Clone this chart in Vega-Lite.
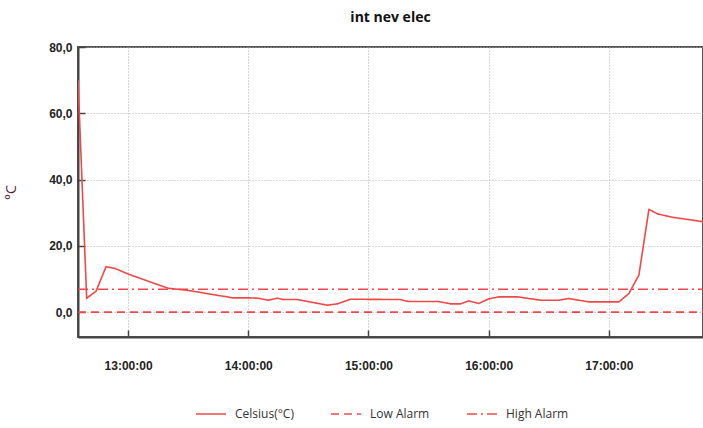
{
  "$schema": "https://vega.github.io/schema/vega-lite/v6.json",
  "width": 625,
  "height": 290,
  "autosize": {"type": "none"},
  "padding": {"left": 78, "top": 47, "right": 0, "bottom": 91},
  "background": "white",
  "title": {
    "text": "int nev elec",
    "font": "Open Sans",
    "fontSize": 14,
    "fontWeight": "bold",
    "color": "#111111",
    "anchor": "middle",
    "offset": 16
  },
  "config": {
    "view": {"stroke": "#555555", "strokeWidth": 2},
    "axis": {
      "grid": true,
      "gridColor": "#b0b0b0",
      "gridDash": [1, 2],
      "gridWidth": 1,
      "domainColor": "#444444",
      "domainWidth": 2,
      "tickColor": "#444444",
      "tickWidth": 1.5,
      "labelFont": "Liberation Sans",
      "labelFontSize": 12,
      "labelFontWeight": "bold",
      "labelColor": "#222222"
    }
  },
  "data": {
    "values": [
      {"time": "2020-01-01T12:35:00", "value": 70, "series": "Celsius(°C)"},
      {"time": "2020-01-01T12:39:20", "value": 4.2, "series": "Celsius(°C)"},
      {"time": "2020-01-01T12:44:00", "value": 6.3, "series": "Celsius(°C)"},
      {"time": "2020-01-01T12:49:00", "value": 13.7, "series": "Celsius(°C)"},
      {"time": "2020-01-01T12:53:30", "value": 13.2, "series": "Celsius(°C)"},
      {"time": "2020-01-01T13:00:00", "value": 11.5, "series": "Celsius(°C)"},
      {"time": "2020-01-01T13:20:00", "value": 7.2, "series": "Celsius(°C)"},
      {"time": "2020-01-01T13:29:30", "value": 6.6, "series": "Celsius(°C)"},
      {"time": "2020-01-01T13:52:30", "value": 4.3, "series": "Celsius(°C)"},
      {"time": "2020-01-01T14:00:30", "value": 4.3, "series": "Celsius(°C)"},
      {"time": "2020-01-01T14:05:00", "value": 4.2, "series": "Celsius(°C)"},
      {"time": "2020-01-01T14:10:00", "value": 3.6, "series": "Celsius(°C)"},
      {"time": "2020-01-01T14:14:30", "value": 4.2, "series": "Celsius(°C)"},
      {"time": "2020-01-01T14:17:30", "value": 3.8, "series": "Celsius(°C)"},
      {"time": "2020-01-01T14:24:30", "value": 3.8, "series": "Celsius(°C)"},
      {"time": "2020-01-01T14:39:30", "value": 2.1, "series": "Celsius(°C)"},
      {"time": "2020-01-01T14:44:30", "value": 2.5, "series": "Celsius(°C)"},
      {"time": "2020-01-01T14:51:00", "value": 3.9, "series": "Celsius(°C)"},
      {"time": "2020-01-01T15:16:00", "value": 3.8, "series": "Celsius(°C)"},
      {"time": "2020-01-01T15:20:00", "value": 3.2, "series": "Celsius(°C)"},
      {"time": "2020-01-01T15:35:00", "value": 3.2, "series": "Celsius(°C)"},
      {"time": "2020-01-01T15:41:00", "value": 2.5, "series": "Celsius(°C)"},
      {"time": "2020-01-01T15:46:00", "value": 2.5, "series": "Celsius(°C)"},
      {"time": "2020-01-01T15:50:00", "value": 3.4, "series": "Celsius(°C)"},
      {"time": "2020-01-01T15:55:00", "value": 2.6, "series": "Celsius(°C)"},
      {"time": "2020-01-01T16:00:00", "value": 4.0, "series": "Celsius(°C)"},
      {"time": "2020-01-01T16:05:00", "value": 4.6, "series": "Celsius(°C)"},
      {"time": "2020-01-01T16:14:30", "value": 4.6, "series": "Celsius(°C)"},
      {"time": "2020-01-01T16:26:00", "value": 3.6, "series": "Celsius(°C)"},
      {"time": "2020-01-01T16:35:00", "value": 3.6, "series": "Celsius(°C)"},
      {"time": "2020-01-01T16:40:00", "value": 4.1, "series": "Celsius(°C)"},
      {"time": "2020-01-01T16:50:00", "value": 3.1, "series": "Celsius(°C)"},
      {"time": "2020-01-01T17:05:00", "value": 3.1, "series": "Celsius(°C)"},
      {"time": "2020-01-01T17:10:00", "value": 5.6, "series": "Celsius(°C)"},
      {"time": "2020-01-01T17:15:00", "value": 11.2, "series": "Celsius(°C)"},
      {"time": "2020-01-01T17:20:00", "value": 31.0, "series": "Celsius(°C)"},
      {"time": "2020-01-01T17:24:30", "value": 29.6, "series": "Celsius(°C)"},
      {"time": "2020-01-01T17:32:00", "value": 28.6, "series": "Celsius(°C)"},
      {"time": "2020-01-01T17:47:00", "value": 27.3, "series": "Celsius(°C)"},
      {"time": "2020-01-01T12:35:00", "value": 0, "series": "Low Alarm"},
      {"time": "2020-01-01T17:47:00", "value": 0, "series": "Low Alarm"},
      {"time": "2020-01-01T12:35:00", "value": 6.9, "series": "High Alarm"},
      {"time": "2020-01-01T17:47:00", "value": 6.9, "series": "High Alarm"}
    ]
  },
  "mark": {"type": "line", "strokeWidth": 1.6, "clip": true},
  "encoding": {
    "x": {
      "field": "time",
      "type": "temporal",
      "scale": {"domain": ["2020-01-01T12:35:00", "2020-01-01T17:47:00"], "nice": false},
      "axis": {
        "title": null,
        "format": "%H:%M:%S",
        "values": [
          {"year": 2020, "month": 1, "date": 1, "hours": 13},
          {"year": 2020, "month": 1, "date": 1, "hours": 14},
          {"year": 2020, "month": 1, "date": 1, "hours": 15},
          {"year": 2020, "month": 1, "date": 1, "hours": 16},
          {"year": 2020, "month": 1, "date": 1, "hours": 17}
        ],
        "tickSize": -7,
        "labelPadding": 30,
        "labelFlush": false
      }
    },
    "y": {
      "field": "value",
      "type": "quantitative",
      "scale": {"domain": [-7.5, 80], "nice": false, "zero": false},
      "axis": {
        "title": "°C",
        "titleColor": "#5c1e3c",
        "titleFont": "Open Sans",
        "titleFontSize": 14,
        "titleFontWeight": "normal",
        "titlePadding": 30,
        "values": [0, 20, 40, 60, 80],
        "labelExpr": "replace(format(datum.value, '.1f'), '.', ',')",
        "tickSize": -7,
        "labelPadding": 13
      }
    },
    "color": {
      "field": "series",
      "type": "nominal",
      "scale": {
        "domain": ["Celsius(°C)", "Low Alarm", "High Alarm"],
        "range": ["#f04848", "#f04848", "#f04848"]
      },
      "legend": {
        "orient": "none",
        "direction": "horizontal",
        "legendX": 117,
        "legendY": 351,
        "symbolType": "stroke",
        "symbolSize": 900,
        "symbolStrokeWidth": 1.6,
        "labelFont": "Open Sans",
        "labelFontSize": 12,
        "labelColor": "#333333",
        "labelOffset": 8,
        "columnPadding": 33,
        "title": null
      }
    },
    "strokeDash": {
      "field": "series",
      "type": "nominal",
      "scale": {
        "domain": ["Celsius(°C)", "Low Alarm", "High Alarm"],
        "range": [[1, 0], [8, 5], [10, 4, 2, 4]]
      },
      "legend": {
        "orient": "none",
        "direction": "horizontal",
        "legendX": 117,
        "legendY": 351,
        "symbolType": "stroke",
        "symbolSize": 900,
        "symbolStrokeWidth": 1.6,
        "labelFont": "Open Sans",
        "labelFontSize": 12,
        "labelColor": "#333333",
        "labelOffset": 8,
        "columnPadding": 33,
        "title": null
      }
    }
  }
}
